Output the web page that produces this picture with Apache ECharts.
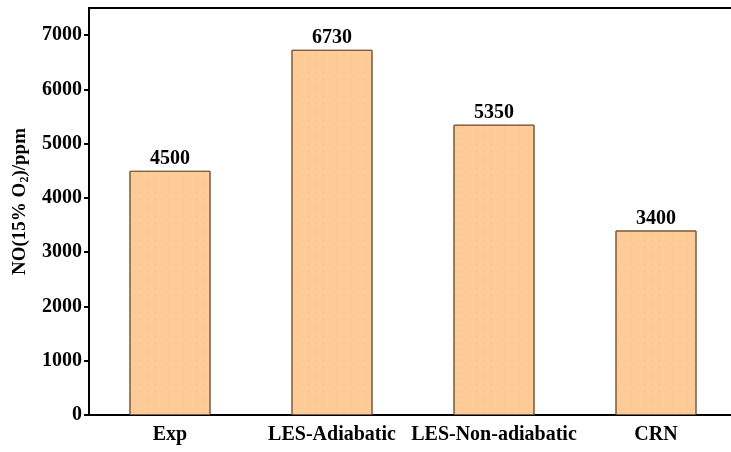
<!DOCTYPE html>
<html>
<head>
<meta charset="utf-8">
<script src="https://cdn.jsdelivr.net/npm/echarts@6/dist/echarts.min.js"></script>
<style>
  html, body { margin: 0; padding: 0; background: #fff; overflow: hidden; }
  #wrap { width: 731px; height: 452px; overflow: hidden; position: relative; }
  #chart { width: 740px; height: 452px; position: absolute; left: 0; top: 0; }
</style>
</head>
<body>
<div id="wrap"><div id="chart"></div></div>
<script>
// NO emission at 15% O2 for each case
const categories = ['Exp', 'LES-Adiabatic', 'LES-Non-adiabatic', 'CRN'];
const noValues = [4500, 6730, 5350, 3400];
const yTicks = [0, 1000, 2000, 3000, 4000, 5000, 6000, 7000];

const serif = '"Liberation Serif", "Times New Roman", serif';

const chart = echarts.init(document.getElementById('chart'), null, { renderer: 'canvas' });

chart.setOption({
  backgroundColor: '#ffffff',
  animation: false,
  grid: {
    left: 89,
    top: 8,
    width: 648,
    height: 407,
    outerBoundsMode: 'none',
    containLabel: false
  },
  xAxis: [{
    type: 'category',
    data: categories,
    axisLine: { lineStyle: { color: '#000', width: 2 } },
    axisTick: { show: false },
    axisLabel: {
      interval: 0,
      color: '#000',
      fontFamily: serif,
      fontWeight: 'bold',
      fontSize: 20,
      margin: 10
    }
  }, {
    // plain frame line along the top of the plot
    type: 'category',
    position: 'top',
    data: categories,
    axisLine: { lineStyle: { color: '#000', width: 2 } },
    axisTick: { show: false },
    axisLabel: { show: false }
  }],
  yAxis: {
    type: 'value',
    min: 0,
    max: 7500,
    name: '{n|NO(15% O}{s|2}{n|)/ppm}',
    nameLocation: 'middle',
    nameGap: 52,
    nameRotate: 90,
    nameTextStyle: {
      padding: [0, 0, 0, 20],
      rich: {
        n: { fontFamily: serif, fontWeight: 'bold', fontSize: 19, color: '#000' },
        s: { fontFamily: serif, fontWeight: 'bold', fontSize: 12, color: '#000', padding: [11, 0, 0, 0] }
      }
    },
    axisLine: { show: true, lineStyle: { color: '#000', width: 2 } },
    axisTick: {
      show: true,
      length: 5,
      customValues: yTicks,
      lineStyle: { color: '#000', width: 2 }
    },
    splitLine: { show: false },
    axisLabel: {
      customValues: yTicks,
      formatter: function (v) { return String(v); },
      color: '#000',
      fontFamily: serif,
      fontWeight: 'bold',
      fontSize: 20,
      margin: 7
    }
  },
  series: [{
    type: 'bar',
    data: noValues,
    barWidth: '50%',
    itemStyle: {
      color: '#FFCC98',
      borderColor: '#7a5a3a',
      borderWidth: 1,
      // fine speckle fill
      decal: {
        symbol: 'circle',
        symbolSize: 0.5,
        color: 'rgba(225, 130, 110, 0.35)',
        dashArrayX: [[2, 5], [2, 5, 0, 0]],
        dashArrayY: [2, 4],
        rotation: 0
      }
    },
    label: {
      show: true,
      position: 'top',
      distance: 2,
      color: '#000',
      fontFamily: serif,
      fontWeight: 'bold',
      fontSize: 20
    }
  }]
});
</script>
</body>
</html>
